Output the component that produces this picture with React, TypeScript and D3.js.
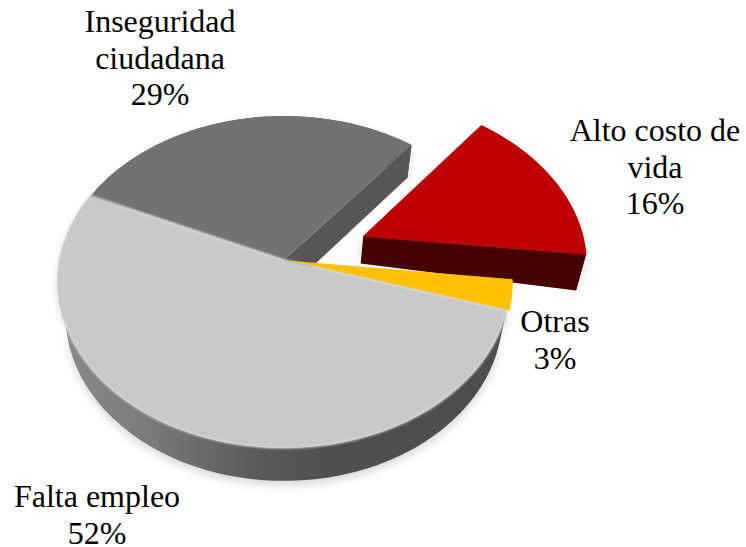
import React from "react";
import * as d3 from "d3";

const categories = ["Inseguridad ciudadana", "Alto costo de vida", "Otras", "Falta empleo"];
const values = [29, 16, 3, 52];
const topColors = ["#767171", "#c00000", "#ffc000", "#c9c9c9"];
const sideColors = ["#595553", "#450000", "#7f6000", "#555555"];
const explode = [0, 0.39, 0.012, 0];
const labelLines = [
  ["Inseguridad", "ciudadana", "29%"],
  ["Alto costo de", "vida", "16%"],
  ["Otras", "3%"],
  ["Falta empleo", "52%"],
];
const labelAnchors = [
  { x: 160, y: 32 },
  { x: 655, y: 141 },
  { x: 555, y: 332 },
  { x: 97, y: 507 },
];

const WIDTH = 746;
const HEIGHT = 547;
const CX = 284;
const CY = 260;
const R = 224;
const RB = 163;
const K = 0.1325;
const DEPTH = 33;
const SHRINK = 0.967;
const FONT = "'Liberation Serif','Times New Roman',serif";
const FONT_SIZE = 32;
const LINE_H = 36.5;

type P = [number, number];

const rad = (d: number) => (d * Math.PI) / 180;

// Perspective projection of the unit disc on to the screen
function project(u: number, v: number): P {
  const w = 1 - K * v;
  return [CX + (R * u) / w, CY + (RB * v) / w];
}
// The exploded red slice recedes: its wall grows towards the right
function lower(p: P, i = 0): P {
  const d = i === 1 ? 24 + (p[0] - CX) * 0.04 : DEPTH;
  return [CX + (p[0] - CX) * SHRINK, p[1] + d];
}

const pieGen = d3
  .pie<number>()
  .sort(null)
  .startAngle(rad(294.5) - 2 * Math.PI)
  .endAngle(rad(294.5));
const arcs = pieGen(values);

function shift(i: number) {
  const a = (arcs[i].startAngle + arcs[i].endAngle) / 2;
  return { du: Math.sin(a) * explode[i], dv: -Math.cos(a) * explode[i] };
}
function rim(i: number): P[] {
  const { du, dv } = shift(i);
  const s = d3.scaleLinear().domain([0, 60]).range([arcs[i].startAngle, arcs[i].endAngle]);
  return d3.range(61).map((t) => project(Math.sin(s(t)) + du, -Math.cos(s(t)) + dv));
}
function apex(i: number): P {
  const { du, dv } = shift(i);
  return project(du, dv);
}

const line = d3.line<P>().x((d) => d[0]).y((d) => d[1]);
const closed = (pts: P[]) => line(pts) + "Z";

function topPath(i: number) {
  return closed([apex(i), ...rim(i)]);
}
function wallPath(i: number) {
  const r = rim(i);
  return closed([...r, ...r.map((p) => lower(p, i)).reverse()]);
}
function cutPath(i: number, atEnd: boolean) {
  const r = rim(i);
  const e = atEnd ? r[r.length - 1] : r[0];
  const a = apex(i);
  return closed([a, e, lower(e, i), lower(a, i)]);
}
function solidPath(i: number) {
  const r = rim(i);
  return closed([apex(i), ...r, ...r.map((p) => lower(p, i)).reverse(), lower(apex(i), i)]);
}

export default function App() {
  const [ins, alto, otras, falta] = [0, 1, 2, 3];
  return (
    <svg
      width={WIDTH}
      height={HEIGHT}
      viewBox={`0 0 ${WIDTH} ${HEIGHT}`}
      style={{ position: "absolute", left: 0, top: 0, background: "#fff" }}
    >
      <defs>
        <linearGradient id="wallGrad" gradientUnits="userSpaceOnUse" x1={60} x2={510} y1={0} y2={0}>
          <stop offset="0" stopColor="#8a8a8a" />
          <stop offset="0.2" stopColor="#7a7a7a" />
          <stop offset="0.42" stopColor="#5c5c5c" />
          <stop offset="0.6" stopColor="#4f4f4f" />
          <stop offset="1" stopColor="#4d4d4d" />
        </linearGradient>
        <filter id="soft" x="-10%" y="-10%" width="120%" height="120%">
          <feGaussianBlur stdDeviation="4" />
        </filter>
        <filter id="edge" x="-5%" y="-5%" width="110%" height="110%">
          <feGaussianBlur stdDeviation="1" />
        </filter>
      </defs>

      {/* soft shadows */}
      <g filter="url(#soft)" opacity={0.35} transform="translate(0,4)">
        <path d={solidPath(falta)} fill="#8a8a8a" />
        <path d={solidPath(alto)} fill="#8a8a8a" />
        <path d={solidPath(ins)} fill="#8a8a8a" />
      </g>

      {/* Inseguridad */}
      <path d={cutPath(ins, true)} fill={sideColors[ins]} />
      <path d={wallPath(ins)} fill={sideColors[ins]} />
      <path d={topPath(ins)} fill={topColors[ins]} />

      {/* Alto costo */}
      <path d={wallPath(alto)} fill={sideColors[alto]} />
      <path d={cutPath(alto, true)} fill={sideColors[alto]} />
      <path d={topPath(alto)} fill={topColors[alto]} stroke="#a80000" strokeWidth={0.8} />

      {/* Falta empleo */}
      <path d={wallPath(falta)} fill="url(#wallGrad)" />

      {/* Otras */}
      <path d={topPath(otras)} fill={topColors[otras]} />

      <path d={topPath(falta)} fill={topColors[falta]} stroke="#d4d4d4" strokeWidth={1.5} filter="url(#edge)" />

      {labelLines.map((lines, i) => (
        <text
          key={categories[i]}
          x={labelAnchors[i].x}
          y={labelAnchors[i].y}
          textAnchor="middle"
          fontFamily={FONT}
          fontSize={FONT_SIZE}
          fill="#000"
        >
          {lines.map((l, j) => (
            <tspan key={l} x={labelAnchors[i].x} y={labelAnchors[i].y + j * LINE_H}>
              {l}
            </tspan>
          ))}
        </text>
      ))}
    </svg>
  );
}
